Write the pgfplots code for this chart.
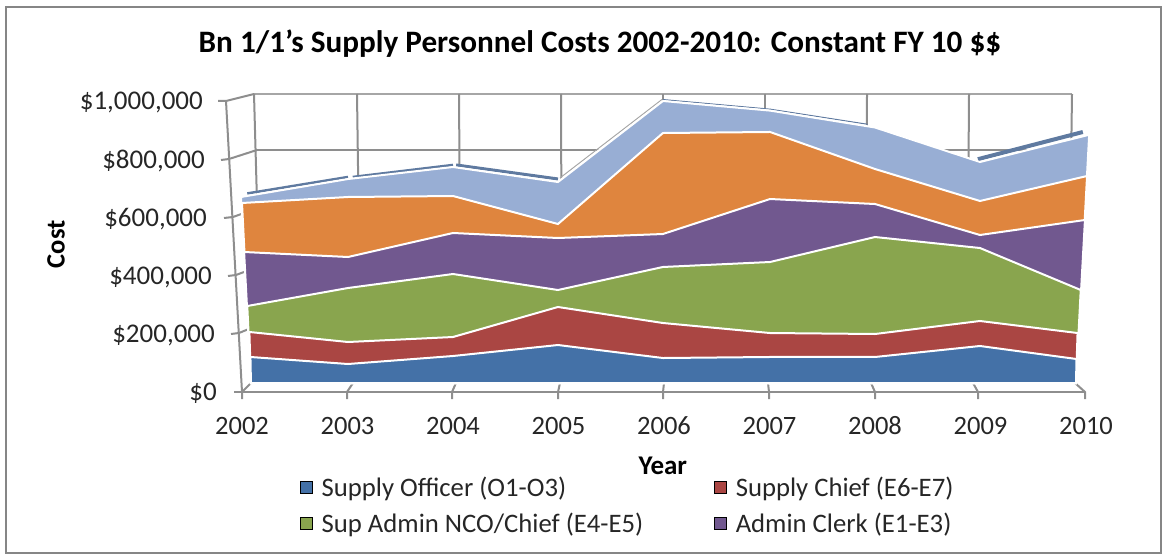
\documentclass[border=0pt]{standalone}
\usepackage{pgfplots}
\usepackage{fontspec}
\setmainfont{Carlito}
\pgfplotsset{compat=1.18}
\definecolor{cblue}{HTML}{4471A7}
\definecolor{cred}{HTML}{AA4643}
\definecolor{cgreen}{HTML}{89A54E}
\definecolor{cpurple}{HTML}{71588F}
\definecolor{corange}{HTML}{DF853E}
\definecolor{clblue}{HTML}{98AED4}
\definecolor{cdark}{HTML}{5F7AA0}
\definecolor{cgrid}{HTML}{8E8E8E}
\definecolor{cframe}{HTML}{868686}
\definecolor{ctext}{HTML}{262626}
\newcommand{\txt}[1]{\fontsize{#1}{#1}\selectfont}
\begin{document}
\begin{tikzpicture}
\useasboundingbox (0,0) rectangle (1167pt,555pt);
\begin{scope}[x=1pt,y=-1pt,yshift=555pt]
  % chart frame
  \draw[cframe,line width=2.2pt] (6,7) rectangle (1161,553);
  % back wall and side wall
  \begin{scope}[cgrid,line width=2pt]
    \draw[line width=2pt,color=gray!70] (254,94) -- (1072,94);
    \foreach \y/\s in {150/257,208/258,266/260,324/261,382/263}
      \draw (\s,\y) -- (1070,\y);
    \foreach \a/\b in {254/262,357/361,459/461,561/562,663/663,765/765,867/866,969/967,1072/1068}
      \draw (\a,94) -- (\b,383);
    % slanted front axis, ticks and side wall
    \draw (226,101) -- (242,392);
    \draw (218,101) -- (226,101) -- (254,94);
    \draw (221,160) -- (229,159) -- (257,150);
    \draw (224,218) -- (233,217) -- (258,208);
    \draw (228,276) -- (236,275) -- (260,266);
    \draw (231,334) -- (239,333) -- (261,324);
    \draw[line width=2.4pt] (234,392) -- (1085,392);
    \foreach \a/\b in {242/251,347/353,452/456,558/560,663/664,769/768,875/871,978/973,1085/1075}{
      \draw (\a,399) -- (\a,392) -- (\b,383);}
  \end{scope}
\end{scope}
\begin{axis}[
  at={(0,0)},anchor=south west,
  scale only axis,width=1167pt,height=555pt,
  xmin=1999.7062,xmax=2010.7678,ymin=-560133,ymax=1347069,
  axis line style={draw=none},tick style={draw=none},
  clip=false,
  xtick={2002,2003,2004,2005,2006,2007,2008,2009,2010},
  xticklabels={2002,2003,2004,2005,2006,2007,2008,2009,2010},
  xticklabel style={font=\txt{26.5},text=ctext,anchor=center,yshift=129pt,inner sep=0pt},
  ytick={0,200000,400000,600000,800000,1000000},
  yticklabels={{\$0\hspace*{1pt}},{\$200,000\hspace*{3pt}},{\$400,000\hspace*{6pt}},{\$600,000\hspace*{11pt}},{\$800,000\hspace*{13pt}},{\$1,000,000\hspace*{15pt}}},
  yticklabel style={font=\txt{27},text=ctext,anchor=east,xshift=218pt,yshift=-1.5pt,inner sep=0pt},
  scaled y ticks=false,
  title={Bn 1/1's Supply Personnel Costs 2002-2010: Constant FY 10 \$\$},
  title style={font=\txt{31.2}\bfseries,at={(axis description cs:0.514,0.9114)},anchor=center,yshift=0pt},
  xlabel={Year},
  xlabel style={font=\txt{27}\bfseries,at={(axis description cs:0.568,0.160)},anchor=center},
  ylabel={Cost},
  ylabel style={font=\txt{26.5}\bfseries,at={(axis description cs:0.048,0.56)},anchor=center},
  legend columns=2,
  legend cell align=left,
  legend style={at={(axis description cs:0.2571,0.1447)},anchor=north west,draw=none,fill=none,
    font=\txt{26.7},text=ctext,row sep=11pt,inner sep=0pt,
    /tikz/every even column/.append style={column sep=69pt}},
  legend image code/.code={\fill[#1] (0pt,-6pt) rectangle (12pt,6pt);\path (19pt,0pt);},
]
% top strips
\addplot[cdark,line width=2.5pt,forget plot] coordinates {(2002.05,682300)(2003.005,738900)};
\addplot[cdark,line width=2.5pt,forget plot] coordinates {(2003.05,738900)(2004.0,780200)};
\addplot[cdark,line width=3pt,forget plot] coordinates {(2004.03,780200)(2004.995,732100)};
\addplot[cdark,line width=4pt,forget plot] coordinates {(2008.975,800000)(2009.97,893500)};
\addplot[cdark,line width=1pt,forget plot] coordinates {(2005.99,1005000)(2007.005,972000)};
\addplot[cdark,line width=1pt,forget plot] coordinates {(2007.005,972000)(2007.93,920000)};
\addplot[gray!70,line width=1pt,forget plot] coordinates {(2005.014,735400)(2005.98,1005000)};
% cumulative layers
\addplot[fill=clblue,draw=white,line width=2pt,forget plot] coordinates {
 (2001.99,670100)(2003.005,731900)(2004.0,773200)(2004.995,721600)(2005.99,1000000)(2007.005,967000)(2008.0,909000)(2008.995,790400)(2010.03,884000)(2009.905,30900)(2002.085,30900)} -- cycle;
\addplot[fill=corange,draw=white,line width=2pt,forget plot] coordinates {
 (2002.0,649500)(2003.005,670100)(2004.0,673500)(2004.995,577300)(2005.99,890000)(2007.005,893500)(2008.0,766300)(2008.995,656400)(2010.01,742300)(2009.905,30900)(2002.085,30900)} -- cycle;
\addplot[fill=cpurple,draw=white,line width=2pt,forget plot] coordinates {
 (2002.02,481100)(2003.005,463900)(2004.0,546400)(2004.995,529200)(2005.99,542900)(2007.005,663200)(2008.0,646000)(2008.995,539500)(2009.99,591100)(2009.905,30900)(2002.085,30900)} -- cycle;
\addplot[fill=cgreen,draw=white,line width=2pt,forget plot] coordinates {
 (2002.05,295500)(2003.005,357400)(2004.0,405500)(2004.995,350500)(2005.99,429600)(2007.005,446700)(2008.0,532600)(2008.995,494800)(2009.95,350500)(2009.905,30900)(2002.085,30900)} -- cycle;
\addplot[fill=cred,draw=white,line width=2pt,forget plot] coordinates {
 (2002.07,206200)(2003.005,171800)(2004.0,189000)(2004.995,292100)(2005.99,237100)(2007.005,202700)(2008.0,199300)(2008.995,244000)(2009.92,202700)(2009.905,30900)(2002.085,30900)} -- cycle;
\addplot[fill=cblue,draw=white,line width=2pt,forget plot] coordinates {
 (2002.08,120300)(2003.005,96200)(2004.0,123700)(2004.995,161500)(2005.99,116800)(2007.005,120300)(2008.0,120300)(2008.995,158100)(2009.91,113400)(2009.905,30900)(2002.085,30900)} -- cycle;
\addlegendimage{fill=cblue}\addlegendentry{Supply Officer (O1-O3)}
\addlegendimage{fill=cred}\addlegendentry{Supply Chief (E6-E7)}
\addlegendimage{fill=cgreen}\addlegendentry{Sup Admin NCO/Chief (E4-E5)}
\addlegendimage{fill=cpurple}\addlegendentry{Admin Clerk (E1-E3)}
\end{axis}
\end{tikzpicture}
\end{document}
